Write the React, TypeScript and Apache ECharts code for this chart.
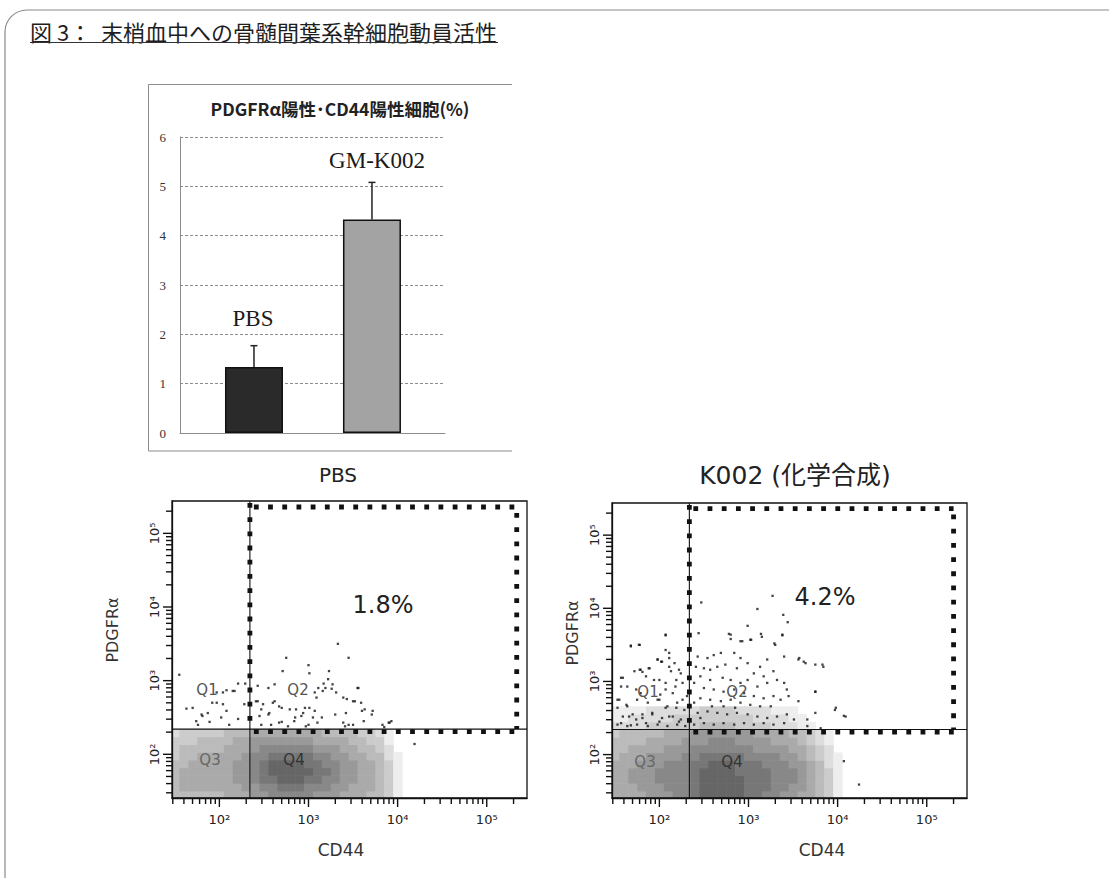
import React, { useEffect, useRef } from 'react';
import * as echarts from 'echarts';

// ---------------- data ----------------
const BAR_CATEGORIES = ['PBS', 'GM-K002'];
const BAR_MEANS = [1.34, 4.33];
const BAR_UPPER = [1.77, 5.08];
const BAR_Y_TICKS = [0, 1, 2, 3, 4, 5, 6];

const MAIN_TITLE = '図 3：  末梢血中への骨髄間葉系幹細胞動員活性';
const BAR_TITLE = 'PDGFRα陽性･CD44陽性細胞(%)';
const PLOT_TITLES = ['PBS', 'K002 (化学合成)'];
const PLOT_PERCENTS = ['1.8%', '4.2%'];
const QUADRANTS = ['Q1', 'Q2', 'Q3', 'Q4'];
const X_AXIS_NAME = 'CD44';
const Y_AXIS_NAME = 'PDGFRα';

const AXIS_X_RANGE = [29.4, 283000];
const AXIS_Y_RANGE = [25.5, 275000];
const DECADES = [100, 1000, 10000, 100000];
const DECADE_LABELS = ['10²', '10³', '10⁴', '10⁵'];
const MINOR_TICKS = [
  30, 40, 50, 60, 70, 80, 90,
  200, 300, 400, 500, 600, 700, 800, 900,
  2000, 3000, 4000, 5000, 6000, 7000, 8000, 9000,
  20000, 30000, 40000, 50000, 60000, 70000, 80000, 90000,
  200000,
];

// quadrant split [CD44, PDGFRα] and gate upper corner [CD44, PDGFRα]
const QUAD_PBS = [220, 220];
const QUAD_K002 = [217, 220];
const GATE_PBS = [217000, 228000];
const GATE_K002 = [200000, 231000];

// 2D histogram of the dense population, in log10 bins (rows bottom -> top)
const DENSITY_LOG_X0 = 1.45;
const DENSITY_LOG_DX = 0.1;
const DENSITY_LOG_Y0 = 1.4;
const DENSITY_LOG_DY = 0.105;

const DENSITY_PBS = [
  [4, 4, 4, 4, 4, 4, 5, 5, 5, 6, 6, 7, 7, 7, 7, 7, 6, 6, 6, 5, 5, 5, 4, 4, 3, 1],
  [4, 5, 5, 5, 5, 5, 5, 5, 6, 6, 7, 7, 8, 8, 8, 7, 7, 7, 6, 6, 5, 5, 5, 4, 3, 1],
  [4, 5, 5, 5, 5, 5, 5, 6, 6, 7, 8, 8, 9, 9, 9, 8, 8, 7, 7, 6, 6, 5, 5, 4, 3, 1],
  [4, 5, 5, 5, 5, 5, 5, 6, 6, 7, 8, 9, 9, 9, 9, 9, 8, 8, 7, 6, 6, 5, 5, 4, 3, 1],
  [4, 4, 5, 5, 5, 5, 5, 6, 6, 7, 8, 9, 9, 9, 9, 8, 8, 7, 7, 6, 6, 5, 5, 4, 3, 1],
  [3, 4, 4, 5, 5, 5, 5, 5, 6, 7, 7, 8, 8, 8, 8, 8, 7, 7, 6, 6, 5, 5, 4, 4, 2, 1],
  [3, 4, 4, 4, 4, 4, 5, 5, 5, 6, 7, 7, 7, 7, 7, 7, 6, 6, 6, 5, 5, 4, 4, 3, 2, 0],
  [3, 3, 3, 4, 4, 4, 4, 5, 5, 6, 6, 6, 6, 6, 6, 6, 5, 5, 5, 5, 4, 4, 3, 3, 1, 0],
  [2, 3, 3, 3, 3, 3, 4, 4, 4, 5, 5, 5, 5, 5, 5, 5, 5, 4, 4, 4, 4, 3, 3, 2, 1, 0],
];

const DENSITY_K002 = [
  [5, 5, 5, 5, 6, 6, 6, 7, 7, 8, 9, 9, 9, 9, 9, 8, 8, 7, 7, 6, 6, 5, 5, 4, 3, 1],
  [5, 5, 5, 6, 6, 6, 7, 7, 7, 8, 9, 9, 9, 9, 9, 8, 8, 8, 7, 7, 6, 6, 5, 4, 3, 1],
  [5, 5, 6, 6, 6, 7, 7, 7, 7, 8, 9, 9, 9, 9, 9, 8, 8, 8, 7, 7, 7, 6, 5, 4, 3, 1],
  [5, 5, 6, 6, 6, 7, 7, 7, 7, 8, 9, 9, 9, 9, 8, 8, 8, 8, 7, 7, 7, 6, 5, 4, 3, 1],
  [5, 5, 5, 6, 6, 6, 7, 7, 7, 8, 8, 9, 9, 9, 8, 8, 8, 7, 7, 7, 6, 6, 5, 4, 2, 1],
  [4, 5, 5, 5, 6, 6, 6, 6, 7, 7, 8, 8, 8, 8, 8, 7, 7, 7, 7, 6, 6, 5, 4, 3, 2, 1],
  [4, 4, 5, 5, 5, 5, 6, 6, 6, 7, 7, 7, 7, 7, 7, 7, 6, 6, 6, 6, 5, 5, 4, 3, 2, 0],
  [4, 4, 4, 4, 5, 5, 5, 5, 6, 6, 6, 7, 7, 7, 6, 6, 6, 6, 5, 5, 5, 4, 3, 2, 1, 0],
  [3, 4, 4, 4, 4, 4, 5, 5, 5, 6, 6, 6, 6, 6, 6, 6, 5, 5, 5, 5, 4, 4, 3, 2, 1, 0],
  [2, 2, 2, 2, 3, 3, 3, 3, 3, 3, 4, 4, 4, 4, 3, 3, 3, 3, 2, 2, 2, 1, 1, 0, 0, 0],
  [1, 1, 2, 2, 2, 2, 2, 3, 3, 3, 3, 3, 3, 3, 3, 3, 2, 2, 2, 2, 1, 1, 0, 0, 0, 0],
  [1, 1, 1, 1, 2, 2, 2, 2, 2, 2, 3, 3, 3, 3, 2, 2, 2, 2, 1, 1, 1, 0, 0, 0, 0, 0],
];

// individual sparse events, [log10 CD44, log10 PDGFRα]
const SPARSE_PBS = [
  [3.33, 3.5], [3.45, 3.31], [2.75, 3.31], [3.0, 3.21], [2.71, 3.13], [3.01, 3.1], [3.23, 3.13], [1.55, 3.08], [3.22, 3.02], [3.56, 2.9],
  [2.21, 2.96], [2.29, 2.96], [2.43, 2.93], [2.55, 2.9], [2.62, 2.95], [3.11, 2.9], [3.17, 2.96], [3.26, 2.89], [3.31, 2.84], [3.07, 2.84],
  [2.08, 2.87], [2.17, 2.86], [1.97, 2.84], [1.7, 2.63], [1.63, 2.62], [1.8, 2.54], [1.87, 2.56], [1.97, 2.7], [2.08, 2.59], [2.28, 2.68],
  [2.43, 2.72], [2.47, 2.61], [2.55, 2.54], [2.62, 2.72], [2.7, 2.63], [2.79, 2.61], [2.85, 2.5], [2.92, 2.52], [2.96, 2.63], [3.07, 2.59],
  [3.15, 2.5], [3.3, 2.54], [3.43, 2.75], [3.52, 2.72], [3.63, 2.61], [3.71, 2.54], [3.9, 2.43], [3.93, 2.45], [3.85, 2.37], [3.41, 2.38],
  [3.45, 2.4], [2.77, 2.38], [3.0, 2.4], [2.47, 2.4], [2.7, 2.44], [1.76, 2.4], [1.89, 2.44], [2.02, 2.5], [2.21, 2.48], [4.19, 2.14],
  [1.92, 2.7], [2.04, 2.68], [1.81, 2.52], [1.74, 2.45], [2.11, 2.4], [2.15, 2.86], [2.04, 2.84],
  [2.41, 2.72], [2.49, 2.68], [2.56, 2.56], [2.45, 2.52], [2.6, 2.7], [2.67, 2.65], [2.86, 2.61], [2.94, 2.56], [2.84, 2.45], [3.01, 2.63],
  [3.05, 2.5], [3.09, 2.77], [3.16, 2.86], [3.19, 2.9], [3.27, 2.95], [3.39, 2.77], [3.42, 2.56], [3.5, 2.72], [3.59, 2.7], [3.6, 2.59],
  [3.72, 2.59], [3.39, 2.43], [3.5, 2.4], [3.62, 2.45], [3.83, 2.4], [3.91, 2.43], [3.55, 2.9], [3.1, 2.43], [2.97, 2.38], [2.67, 2.43], [2.58, 2.4],
];

const SPARSE_K002 = [
  [3.27, 4.17], [2.47, 4.08], [3.1, 3.99], [3.39, 3.91], [3.44, 3.81], [2.99, 3.76], [2.78, 3.65], [2.07, 3.63], [3.14, 3.65], [3.38, 3.63],
  [2.8, 3.58], [2.91, 3.55], [3.03, 3.57], [3.29, 3.52], [1.68, 3.49], [1.78, 3.5], [1.98, 3.3], [2.02, 3.27], [2.11, 3.39], [2.07, 3.43],
  [1.57, 3.05], [1.78, 3.16], [1.81, 3.13], [1.89, 3.18], [2.11, 3.2], [2.17, 3.25], [3.62, 3.27], [3.57, 3.32], [3.83, 3.23], [3.75, 2.86],
  [3.98, 2.64], [4.07, 2.53], [4.07, 1.91], [4.24, 1.59],
  [1.57, 2.93], [1.55, 2.75], [1.63, 2.68], [1.66, 2.52], [1.53, 2.64], [1.74, 2.89], [1.85, 3.07], [2.0, 3.02], [2.07, 2.89], [2.15, 2.84],
  [2.19, 3.02], [2.24, 3.11], [2.26, 2.75], [2.0, 2.75], [2.07, 2.64], [2.19, 2.64], [1.92, 2.57], [1.81, 2.55], [1.74, 2.48], [1.85, 2.43],
  [2.0, 2.45], [2.11, 2.52], [2.22, 2.45], [1.57, 2.43], [1.68, 2.4],
  [2.44, 3.66], [2.8, 3.64], [2.93, 3.55], [3.02, 3.57], [3.15, 3.61], [3.3, 3.5], [3.38, 3.64], [3.4, 3.34], [3.56, 3.3], [3.64, 3.25],
  [3.75, 3.23], [3.84, 3.2], [3.75, 2.86], [3.97, 2.61], [4.09, 2.52], [3.66, 2.48], [3.56, 2.73], [3.45, 2.8], [3.36, 2.75], [3.21, 3.3],
  [3.13, 3.2], [2.99, 3.25], [2.91, 3.32], [2.84, 3.39], [2.69, 3.39], [2.61, 3.36], [2.54, 3.32], [2.43, 3.34], [2.41, 3.2], [2.5, 3.18],
  [2.57, 3.16], [2.65, 3.2], [2.74, 3.23], [2.87, 3.18], [3.06, 3.11], [3.17, 3.07], [3.28, 3.14], [3.32, 3.02], [3.4, 2.98], [3.43, 2.89],
  [3.21, 2.98], [3.1, 2.93], [2.99, 3.02], [2.91, 2.98], [2.8, 3.02], [2.71, 3.05], [2.57, 3.02], [2.46, 3.07], [2.39, 2.98], [2.5, 2.91],
  [2.61, 2.89], [2.72, 2.86], [2.84, 2.89], [2.95, 2.84], [3.06, 2.8], [3.17, 2.77], [3.28, 2.8], [3.25, 2.66], [3.13, 2.66], [3.02, 2.68],
  [2.91, 2.71], [2.8, 2.75], [2.69, 2.73], [2.57, 2.75], [2.46, 2.77], [2.39, 2.71], [2.43, 2.57], [2.54, 2.59], [2.65, 2.57], [2.76, 2.55],
  [2.87, 2.57], [2.99, 2.55], [3.1, 2.52], [3.21, 2.5], [3.32, 2.52], [3.43, 2.55], [3.51, 2.48], [3.4, 2.43], [3.28, 2.41], [3.17, 2.43],
  [3.06, 2.41], [2.95, 2.43], [2.84, 2.41], [2.72, 2.43], [2.61, 2.41], [2.5, 2.43], [2.39, 2.41], [2.46, 2.5], [2.59, 2.66], [2.72, 2.66],
  [2.85, 2.64], [3.66, 2.39], [3.81, 2.36], [3.75, 2.57],
  [1.68, 3.48], [1.77, 3.5], [2.07, 3.64], [1.98, 3.3], [2.03, 3.27], [1.72, 3.14], [1.79, 3.16], [1.88, 3.18], [2.13, 3.14], [2.22, 3.16],
  [1.59, 3.05], [1.64, 2.93], [1.94, 3.02], [2.07, 2.98], [2.18, 2.93], [2.26, 2.98], [1.53, 2.75], [1.64, 2.66], [1.75, 2.75], [1.87, 2.71],
  [1.98, 2.75], [2.09, 2.66], [2.2, 2.71], [2.28, 2.61], [1.59, 2.52], [1.7, 2.55], [1.81, 2.5], [1.92, 2.55], [2.03, 2.5], [2.15, 2.52],
  [2.24, 2.48], [1.53, 2.41], [1.64, 2.39], [1.75, 2.41], [1.87, 2.39], [1.98, 2.41], [2.09, 2.39], [2.2, 2.41], [2.29, 2.39], [1.79, 2.84],
  [2.01, 2.82], [2.31, 2.8], [2.11, 3.32],
];

// ---------------- helpers ----------------
const decadeLabel = (v: number) => {
  const i = DECADES.findIndex((d) => Math.abs(d - v) / d < 1e-6);
  return i >= 0 ? DECADE_LABELS[i] : '';
};

const densityData = (rows: number[][]) => {
  const out: number[][] = [];
  rows.forEach((row, r) =>
    row.forEach((d, c) => {
      if (d > 0) {
        out.push([
          Math.pow(10, DENSITY_LOG_X0 + c * DENSITY_LOG_DX),
          Math.pow(10, DENSITY_LOG_Y0 + r * DENSITY_LOG_DY),
          d,
        ]);
      }
    })
  );
  return out;
};

const txt = (
  text: string,
  x: number,
  y: number,
  size: number,
  o: { family?: string; weight?: string; fill?: string; align?: string; rot?: number } = {}
) => ({
  type: 'text',
  x,
  y,
  z: 30,
  rotation: o.rot || 0,
  style: {
    text,
    fontSize: size,
    fontFamily: o.family || '"DejaVu Sans", "Noto Sans CJK JP"',
    fontWeight: o.weight || 'normal',
    fill: o.fill || '#222',
    align: o.align || 'center',
    verticalAlign: 'middle',
    textAlign: o.align || 'center',
    textVerticalAlign: 'middle',
  },
});

const logAxis = (grid: number, range: number[], isY: boolean) => ({
  gridIndex: grid,
  type: 'log',
  logBase: 10,
  min: range[0],
  max: range[1],
  z: 12,
  axisLine: { show: true, onZero: false, lineStyle: { color: '#111', width: 1.3 } },
  axisTick: { show: false },
  minorTick: { show: false },
  splitLine: { show: false },
  axisLabel: {
    formatter: (v: number) => decadeLabel(v),
    fontSize: 13,
    color: '#222',
    fontFamily: 'DejaVu Sans',
    margin: isY ? 11 : 15,
    rotate: isY ? 90 : 0,
  },
});

const tickData = (isY: boolean) => [
  ...DECADES.map((v) => (isY ? [1000, v, 1] : [v, 1000, 1])),
  ...MINOR_TICKS.map((v) => (isY ? [1000, v, 0] : [v, 1000, 0])),
];

const flowSeries = (grid: number, density: number[][], sparse: number[][], quad: number[], gate: number[]) => [
  {
    type: 'custom',
    xAxisIndex: grid,
    yAxisIndex: grid,
    clip: true,
    z: 3,
    data: densityData(density),
    renderItem: (params: any, api: any) => {
      const x0 = api.value(0);
      const y0 = api.value(1);
      const d = api.value(2);
      const lx = Math.log10(x0);
      const ly = Math.log10(y0);
      const p0 = api.coord([x0, y0]);
      const p1 = api.coord([Math.pow(10, lx + DENSITY_LOG_DX), Math.pow(10, ly + DENSITY_LOG_DY)]);
      const g = Math.round(255 - d * 17);
      return {
        type: 'rect',
        shape: { x: p0[0], y: p1[1], width: p1[0] - p0[0] + 0.6, height: p0[1] - p1[1] + 0.6 },
        style: { fill: `rgb(${g},${g},${g})` },
      };
    },
  },
  {
    type: 'scatter',
    xAxisIndex: grid,
    yAxisIndex: grid,
    z: 4,
    symbol: 'rect',
    symbolSize: 2.3,
    itemStyle: { color: '#151515' },
    data: sparse.map((p) => [Math.pow(10, p[0]), Math.pow(10, p[1])]),
  },
  {
    type: 'custom',
    xAxisIndex: grid,
    yAxisIndex: grid,
    clip: false,
    z: 6,
    data: [[quad[0], quad[1], gate[0], gate[1]]],
    renderItem: (params: any, api: any) => {
      const cs = params.coordSys;
      const q = api.coord([api.value(0), api.value(1)]);
      const g = api.coord([api.value(2), api.value(3)]);
      const top = cs.y;
      const bottom = cs.y + cs.height;
      const left = cs.x;
      const right = cs.x + cs.width;
      const thin = { stroke: '#111', lineWidth: 1.1 };
      const dot = { stroke: '#111', lineWidth: 4.8, lineDash: [4.8, 9.4] };
      return {
        type: 'group',
        children: [
          { type: 'line', shape: { x1: q[0], y1: top, x2: q[0], y2: bottom }, style: thin },
          { type: 'line', shape: { x1: left, y1: q[1], x2: right, y2: q[1] }, style: thin },
          { type: 'line', shape: { x1: q[0], y1: top + 2, x2: q[0], y2: q[1] }, style: dot },
          { type: 'line', shape: { x1: q[0] + 4, y1: g[1], x2: g[0], y2: g[1] }, style: dot },
          { type: 'line', shape: { x1: g[0], y1: g[1] + 6, x2: g[0], y2: q[1] }, style: dot },
          { type: 'line', shape: { x1: q[0] + 4, y1: q[1] + 2.5, x2: g[0] + 2, y2: q[1] + 2.5 }, style: dot },
        ],
      };
    },
  },
  {
    type: 'custom',
    xAxisIndex: grid,
    yAxisIndex: grid,
    clip: false,
    z: 6,
    data: tickData(false),
    renderItem: (params: any, api: any) => {
      const cs = params.coordSys;
      const x = api.coord([api.value(0), 1000])[0];
      const y = cs.y + cs.height;
      const len = api.value(2) ? 9 : 6;
      return { type: 'line', shape: { x1: x, y1: y, x2: x, y2: y + len }, style: { stroke: '#111', lineWidth: 1.4 } };
    },
  },
  {
    type: 'custom',
    xAxisIndex: grid,
    yAxisIndex: grid,
    clip: false,
    z: 6,
    data: tickData(true),
    renderItem: (params: any, api: any) => {
      const cs = params.coordSys;
      const y = api.coord([1000, api.value(1)])[1];
      const x = cs.x;
      const len = api.value(2) ? 9 : 6;
      return { type: 'line', shape: { x1: x - len, y1: y, x2: x, y2: y }, style: { stroke: '#111', lineWidth: 1.4 } };
    },
  },
];

// ---------------- component ----------------
export default function App() {
  const ref = useRef<HTMLDivElement>(null);

  useEffect(() => {
    if (!ref.current) return;
    const chart = echarts.init(ref.current, undefined, { renderer: 'svg' });

    const barColors = ['#2a2a2a', '#a3a3a3'];

    const option: any = {
      animation: false,
      backgroundColor: '#ffffff',
      textStyle: { fontFamily: '"DejaVu Sans", "Noto Sans CJK JP"' },
      grid: [
        { left: 180, top: 137, width: 265, height: 296, show: false },
        { left: 172, top: 501, width: 355, height: 297, show: true, borderColor: '#111', borderWidth: 1.3, backgroundColor: 'transparent', z: 12 },
        { left: 612, top: 503, width: 355, height: 295, show: true, borderColor: '#111', borderWidth: 1.3, backgroundColor: 'transparent', z: 12 },
      ],
      xAxis: [
        {
          gridIndex: 0,
          type: 'value',
          min: -0.627,
          max: 1.619,
          axisLine: { show: true, onZero: false, lineStyle: { color: '#8c8c8c' } },
          axisTick: { show: false },
          axisLabel: { show: false },
          splitLine: { show: false },
        },
        logAxis(1, AXIS_X_RANGE, false),
        logAxis(2, AXIS_X_RANGE, false),
      ],
      yAxis: [
        {
          gridIndex: 0,
          type: 'value',
          min: BAR_Y_TICKS[0],
          max: BAR_Y_TICKS[BAR_Y_TICKS.length - 1],
          interval: 1,
          axisLine: { show: true, onZero: false, lineStyle: { color: '#8c8c8c' } },
          axisTick: { show: false },
          axisLabel: { fontFamily: '"Liberation Serif"', fontSize: 13, color: '#333', margin: 14 },
          splitLine: { show: true, lineStyle: { color: '#8c8c8c', type: [3, 2] } },
        },
        logAxis(1, AXIS_Y_RANGE, true),
        logAxis(2, AXIS_Y_RANGE, true),
      ],
      series: [
        {
          type: 'bar',
          xAxisIndex: 0,
          yAxisIndex: 0,
          barWidth: 58,
          z: 3,
          data: BAR_MEANS.map((m, i) => ({
            value: [i, m],
            name: BAR_CATEGORIES[i],
            itemStyle: { color: barColors[i], borderColor: '#111', borderWidth: 1.5 },
          })),
        },
        {
          type: 'custom',
          xAxisIndex: 0,
          yAxisIndex: 0,
          clip: false,
          z: 4,
          data: BAR_MEANS.map((m, i) => [i, m, BAR_UPPER[i]]),
          renderItem: (params: any, api: any) => {
            const b = api.coord([api.value(0), api.value(1)]);
            const t = api.coord([api.value(0), api.value(2)]);
            const st = { stroke: '#222', lineWidth: 1.5 };
            return {
              type: 'group',
              children: [
                { type: 'line', shape: { x1: b[0], y1: b[1], x2: t[0], y2: t[1] }, style: st },
                { type: 'line', shape: { x1: t[0] - 3.5, y1: t[1], x2: t[0] + 3.5, y2: t[1] }, style: st },
              ],
            };
          },
        },
        ...flowSeries(1, DENSITY_PBS, SPARSE_PBS, QUAD_PBS, GATE_PBS),
        ...flowSeries(2, DENSITY_K002, SPARSE_K002, QUAD_K002, GATE_K002),
      ],
      graphic: [
        {
          type: 'rect',
          z: 1,
          shape: { x: 5, y: 10, width: 1130, height: 890, r: 22 },
          style: { fill: 'none', stroke: '#8a8a8a', lineWidth: 1.2 },
        },
        txt(MAIN_TITLE, 30, 31, 22, { align: 'left', family: '"Noto Sans CJK JP"', fill: '#1e1e1e' }),
        { type: 'line', z: 30, shape: { x1: 30, y1: 42.5, x2: 498, y2: 42.5 }, style: { stroke: '#333', lineWidth: 1.2 } },
        {
          type: 'polyline',
          z: 1,
          shape: { points: [[512, 84.5], [148.5, 84.5], [148.5, 451], [512, 451]] },
          style: { fill: 'none', stroke: '#8c8c8c', lineWidth: 1 },
        },
        txt(BAR_TITLE, 340, 108, 17.5, { weight: 'bold', family: '"Noto Sans CJK JP"', fill: '#222' }),
        txt(BAR_CATEGORIES[0], 253, 318, 23, { family: '"Liberation Serif"', fill: '#1a1a1a' }),
        txt(BAR_CATEGORIES[1], 377, 160, 23, { family: '"Liberation Serif"', fill: '#1a1a1a' }),

        txt(PLOT_TITLES[0], 338, 475, 20, { fill: '#222' }),
        txt(PLOT_TITLES[1], 795, 475, 25, { fill: '#222' }),

        txt(PLOT_PERCENTS[0], 383, 605, 24, { fill: '#222' }),
        txt(PLOT_PERCENTS[1], 825, 597, 24, { fill: '#222' }),

        txt(QUADRANTS[0], 207, 690, 15, { fill: '#555' }),
        txt(QUADRANTS[1], 298, 690, 15, { fill: '#555' }),
        txt(QUADRANTS[2], 210, 760, 15, { fill: '#666' }),
        txt(QUADRANTS[3], 294, 760, 15, { fill: '#333' }),
        txt(QUADRANTS[0], 648, 692, 15, { fill: '#555' }),
        txt(QUADRANTS[1], 737, 692, 15, { fill: '#555' }),
        txt(QUADRANTS[2], 645, 762, 15, { fill: '#666' }),
        txt(QUADRANTS[3], 732, 762, 15, { fill: '#333' }),

        txt(Y_AXIS_NAME, 112, 630, 16, { fill: '#333', rot: Math.PI / 2 }),
        txt(X_AXIS_NAME, 341, 850, 17, { fill: '#333' }),
        txt(Y_AXIS_NAME, 572, 633, 16, { fill: '#333', rot: Math.PI / 2 }),
        txt(X_AXIS_NAME, 822, 850, 17, { fill: '#333' }),
      ],
    };

    chart.setOption(option);
    return () => chart.dispose();
  }, []);

  return (
    <div
      ref={ref}
      style={{ position: 'absolute', left: 0, top: 0, width: 1109, height: 878, background: '#fff' }}
    />
  );
}
